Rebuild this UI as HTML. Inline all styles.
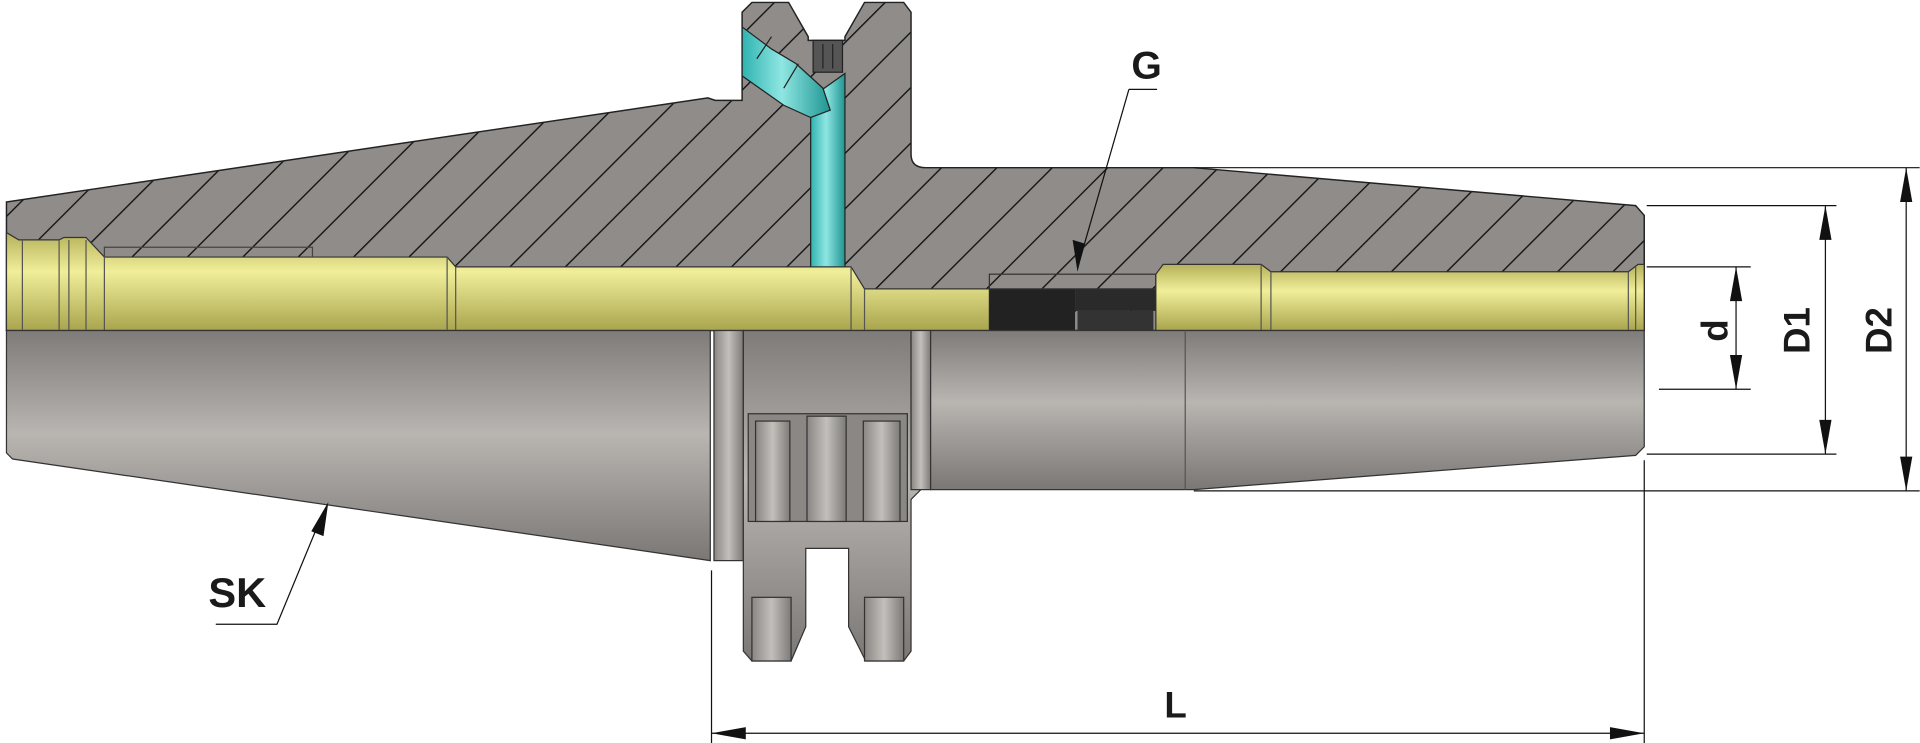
<!DOCTYPE html>
<html><head><meta charset="utf-8"><style>
html,body{margin:0;padding:0;background:#fff;width:1920px;height:743px;overflow:hidden}
svg{display:block}
text{font-family:"Liberation Sans","DejaVu Sans",sans-serif;font-weight:bold;fill:#1a1a1a}
</style></head><body>
<svg width="1920" height="743" viewBox="0 0 1568 607" xmlns="http://www.w3.org/2000/svg">
<defs>
<pattern id="h" width="32" height="32" patternUnits="userSpaceOnUse" patternTransform="rotate(-45)">
<rect width="32" height="32" fill="#8f8c89"/><line x1="0" y1="0" x2="32" y2="0" stroke="#111" stroke-width="2.2"/>
</pattern>
<linearGradient id="g" x1="0" y1="0" x2="0" y2="1">
<stop offset="0" stop-color="#7e7b79"/><stop offset="0.45" stop-color="#b9b5b1"/><stop offset="1" stop-color="#7a7775"/>
</linearGradient>
<linearGradient id="gv" x1="0" y1="0" x2="1" y2="0">
<stop offset="0" stop-color="#8a8683"/><stop offset="0.5" stop-color="#c3bfbb"/><stop offset="1" stop-color="#7d7a78"/>
</linearGradient>
<linearGradient id="y" x1="0" y1="0" x2="0" y2="1">
<stop offset="0" stop-color="#b5b15a"/><stop offset="0.4" stop-color="#f1ee9a"/><stop offset="1" stop-color="#a9a54e"/>
</linearGradient>
<linearGradient id="c" x1="0" y1="0" x2="1" y2="0">
<stop offset="0" stop-color="#2fb3b0"/><stop offset="0.45" stop-color="#8fe6e2"/><stop offset="1" stop-color="#1f9592"/>
</linearGradient>
</defs>
<path d="M5,165 L578,80 L584,82 L606,82 L606,10 L614,2 L644,2 L660,30 L660,33 L690,33 L690,30 L706,2 L738,2 L744,10 L744,126 Q744,137 756,137 L975,137 L1336,168 L1343,176 L1343,270 L5,270 Z" fill="url(#h)" stroke="#222" stroke-width="1.2"/>
<path d="M662,80 L690,60 L690,222 L662,222 Z" fill="url(#c)" stroke="#222" stroke-width="1"/>
<path d="M606,22 L630,40 L650,52 L672,72 L678,90 L662,96 L640,86 L606,62 Z" fill="url(#c)" stroke="#222" stroke-width="1"/>
<line x1="618" y1="48" x2="630" y2="30" stroke="#222"/><line x1="640" y1="72" x2="652" y2="52" stroke="#222"/>
<rect x="664" y="33" width="24" height="26" fill="#555" stroke="#222"/>
<line x1="672" y1="36" x2="672" y2="56" stroke="#222"/><line x1="680" y1="36" x2="680" y2="56" stroke="#222"/>
<path d="M5,190 L15,196 L48,196 L52,194 L70,194 L85,210 L365,210 L372,218 L695,218 L706,236 L808,236 L808,270 L5,270 Z" fill="url(#y)" stroke="#333" stroke-width="1"/>
<line x1="18" y1="196" x2="18" y2="270" stroke="#555"/><line x1="48" y1="196" x2="48" y2="270" stroke="#555"/><line x1="56" y1="196" x2="56" y2="270" stroke="#555"/><line x1="70" y1="196" x2="70" y2="270" stroke="#555"/><line x1="85" y1="210" x2="85" y2="270" stroke="#555"/><line x1="365" y1="210" x2="365" y2="270" stroke="#555"/><line x1="372" y1="218" x2="372" y2="270" stroke="#555"/><line x1="695" y1="218" x2="695" y2="270" stroke="#555"/><line x1="706" y1="236" x2="706" y2="270" stroke="#555"/>
<path d="M85,210 L85,202 L255,202 L255,210" fill="none" stroke="#444"/>
<rect x="808" y="236" width="70" height="34" fill="#222"/>
<rect x="878" y="236" width="66" height="18" fill="#2a2a2a"/>
<rect x="880" y="254" width="62" height="16" fill="#333"/>
<rect x="808" y="224" width="136" height="12" fill="none" stroke="#333"/>
<path d="M944,224 L950,216 L1030,216 L1038,222 L1330,222 L1338,216 L1343,216 L1343,270 L944,270 Z" fill="url(#y)" stroke="#333" stroke-width="1"/>
<line x1="1030" y1="216" x2="1030" y2="270" stroke="#555"/><line x1="1038" y1="222" x2="1038" y2="270" stroke="#555"/><line x1="1330" y1="222" x2="1330" y2="270" stroke="#555"/><line x1="1336" y1="218" x2="1336" y2="270" stroke="#555"/>
<path d="M5,270 L580,270 L580,458 L10,375 L5,370 Z" fill="url(#g)" stroke="#333" stroke-width="1"/>
<rect x="583" y="270" width="24" height="188" fill="url(#gv)" stroke="#333"/>
<path d="M607,270 L744,270 L744,392 Q744,400 752,400 L744,408 L744,532 L738,540 L707,540 L693,512 L693,448 L658,448 L658,512 L646,540 L614,540 L607,532 Z" fill="url(#g)" stroke="#333"/>
<rect x="611" y="338" width="130" height="88" fill="#8a8784" stroke="#333"/>
<rect x="617" y="344" width="28" height="82" fill="url(#gv)" stroke="#333"/>
<rect x="659" y="340" width="32" height="86" fill="url(#gv)" stroke="#333"/>
<rect x="705" y="344" width="30" height="82" fill="url(#gv)" stroke="#333"/>
<rect x="614" y="488" width="32" height="52" fill="url(#gv)" stroke="#333"/>
<rect x="706" y="488" width="32" height="52" fill="url(#gv)" stroke="#333"/>
<rect x="744" y="270" width="16" height="130" fill="url(#gv)" stroke="#333"/>
<path d="M760,270 L1343,270 L1343,365 L1336,372 L975,400 L760,400 Z" fill="url(#g)" stroke="#333"/>
<line x1="968" y1="270" x2="968" y2="400" stroke="#555"/>
<g stroke="#111" stroke-width="1" fill="none">
<line x1="975" y1="137" x2="1568" y2="137"/><line x1="975" y1="401" x2="1568" y2="401"/>
<line x1="1345" y1="168" x2="1500" y2="168"/><line x1="1345" y1="371" x2="1500" y2="371"/>
<line x1="1345" y1="218" x2="1430" y2="218"/><line x1="1355" y1="318" x2="1430" y2="318"/>
<line x1="1557" y1="137" x2="1557" y2="401"/><line x1="1491" y1="168" x2="1491" y2="371"/><line x1="1418" y1="218" x2="1418" y2="318"/>
<line x1="581" y1="466" x2="581" y2="607"/><line x1="1343" y1="376" x2="1343" y2="607"/>
<line x1="581" y1="599" x2="1343" y2="599"/>
<polyline points="922,73 945,73"/><line x1="922" y1="73" x2="882" y2="212"/>
<polyline points="176,510 226,510 264,418"/>
</g>
<g fill="#111">
<polygon points="1557,137 1552,165 1562,165"/><polygon points="1557,401 1552,373 1562,373"/>
<polygon points="1491,168 1486,196 1496,196"/><polygon points="1491,371 1486,343 1496,343"/>
<polygon points="1418,218 1413,246 1423,246"/><polygon points="1418,318 1413,290 1423,290"/>
<polygon points="581,599 609,594 609,604"/><polygon points="1343,599 1315,594 1315,604"/>
<polygon points="880,222 876,196 886,199"/>
<polygon points="268,410 254,434 264,438"/>
</g>
<text x="924" y="64" font-size="32">G</text>
<text x="170" y="496" font-size="34">SK</text>
<text x="951" y="586" font-size="30">L</text>
<text transform="translate(1411,270) rotate(-90)" font-size="30" text-anchor="middle">d</text>
<text transform="translate(1478,270) rotate(-90)" font-size="30" text-anchor="middle">D1</text>
<text transform="translate(1545,270) rotate(-90)" font-size="30" text-anchor="middle">D2</text>
</svg>
</body></html>
